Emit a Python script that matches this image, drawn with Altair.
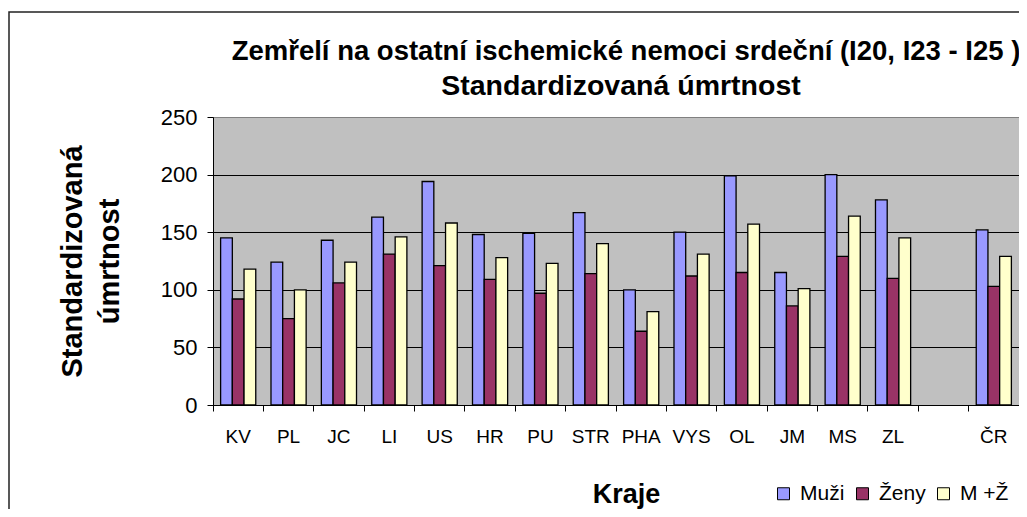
import altair as alt
import pandas as pd

categories = ["KV", "PL", "JC", "LI", "US", "HR", "PU", "STR", "PHA", "VYS",
              "OL", "JM", "MS", "ZL", " ", "ČR"]
muzi = [145, 124, 143, 163, 194, 148, 149, 167, 100, 150, 199, 115, 200, 178, None, 152]
zeny = [92, 75, 106, 131, 121, 109, 97, 114, 64, 112, 115, 86, 129, 110, None, 103]
mz = [118, 100, 124, 146, 158, 128, 123, 140, 81, 131, 157, 101, 164, 145, None, 129]
series = ["Muži", "Ženy", "M +Ž"]
colors = ["#9999FF", "#993366", "#FFFFCC"]
y_ticks = [0, 50, 100, 150, 200, 250]
title_lines = ["Zemřelí na ostatní ischemické nemoci srdeční (I20, I23 - I25 )",
               "Standardizovaná úmrtnost"]

rows = []
for i, c in enumerate(categories):
    for s, vals in zip(series, [muzi, zeny, mz]):
        if vals[i] is not None:
            rows.append({"kraj": c, "series": s, "value": vals[i]})
df = pd.DataFrame(rows)

W, H = 806, 288
FONT = "Liberation Sans"

bars = alt.Chart(df).mark_bar(stroke="black", strokeWidth=1.3).encode(
    x=alt.X(
        "kraj:N", sort=categories,
        scale=alt.Scale(domain=categories, paddingInner=0, paddingOuter=0),
        axis=alt.Axis(
            title="Kraje", bandPosition=0, labelAngle=0,
            labelFontSize=19, labelPadding=16, labelColor="black", tickSize=6,
            tickColor="black", domainColor="black", titleFontSize=27,
            titleFontWeight="bold", titlePadding=35, titleX=413, titleColor="black",
        ),
    ),
    xOffset=alt.XOffset(
        "series:N", sort=series,
        scale=alt.Scale(domain=series, paddingOuter=0.65, paddingInner=0),
    ),
    y=alt.Y(
        "value:Q",
        scale=alt.Scale(domain=[0, 250], nice=False),
        axis=alt.Axis(
            values=y_ticks, title=["Standardizovaná", "úmrtnost"],
            labelFontSize=22, labelPadding=10, labelColor="black", tickSize=6,
            tickColor="black", domainColor="black", grid=True,
            gridColor={"condition": {"test": "datum.value >= 250", "value": "#808080"},
                       "value": "#000000"},
            gridOpacity=1, titleFontSize=29, titleFontWeight="bold",
            titleLineHeight=37, titlePadding=36, titleColor="black",
        ),
    ),
    color=alt.Color(
        "series:N", sort=series,
        scale=alt.Scale(domain=series, range=colors),
        legend=alt.Legend(
            title=None, orient="none", legendX=560, legendY=366,
            direction="horizontal", symbolType="square", symbolSize=144,
            symbolStrokeColor="black", symbolStrokeWidth=1, symbolOpacity=1,
            labelFontSize=21, labelColor="black", labelOffset=6, columnPadding=7,
            padding=0,
        ),
    ),
)

one = alt.Data(values=[{"a": 1}])

frame = alt.Chart(one).mark_rect(
    fill="transparent", stroke="#222222", strokeWidth=1.5
).encode(
    x=alt.value(-204), x2=alt.value(W + 40),
    y=alt.value(-105), y2=alt.value(H + 200),
)

title1 = alt.Chart(one).mark_text(
    font=FONT, fontSize=27.5, fontWeight="bold", color="black",
    align="center", baseline="alphabetic",
).encode(x=alt.value(413), y=alt.value(-57), text=alt.value(title_lines[0]))

title2 = alt.Chart(one).mark_text(
    font=FONT, fontSize=28.5, fontWeight="bold", color="black",
    align="center", baseline="alphabetic",
).encode(x=alt.value(408), y=alt.value(-22), text=alt.value(title_lines[1]))

chart = alt.layer(bars, frame, title1, title2).properties(
    width=W, height=H,
    autosize=alt.AutoSizeParams(type="none"),
    padding={"left": 205, "top": 109, "right": 0, "bottom": 104},
).configure(
    font=FONT, background="white",
).configure_view(
    fill="#C0C0C0", stroke="#808080", strokeWidth=1,
).configure_axis(
    labelFont=FONT, titleFont=FONT,
).configure_legend(
    labelFont=FONT,
)

chart.save("out.html", embed_options={"renderer": "svg", "actions": False})
